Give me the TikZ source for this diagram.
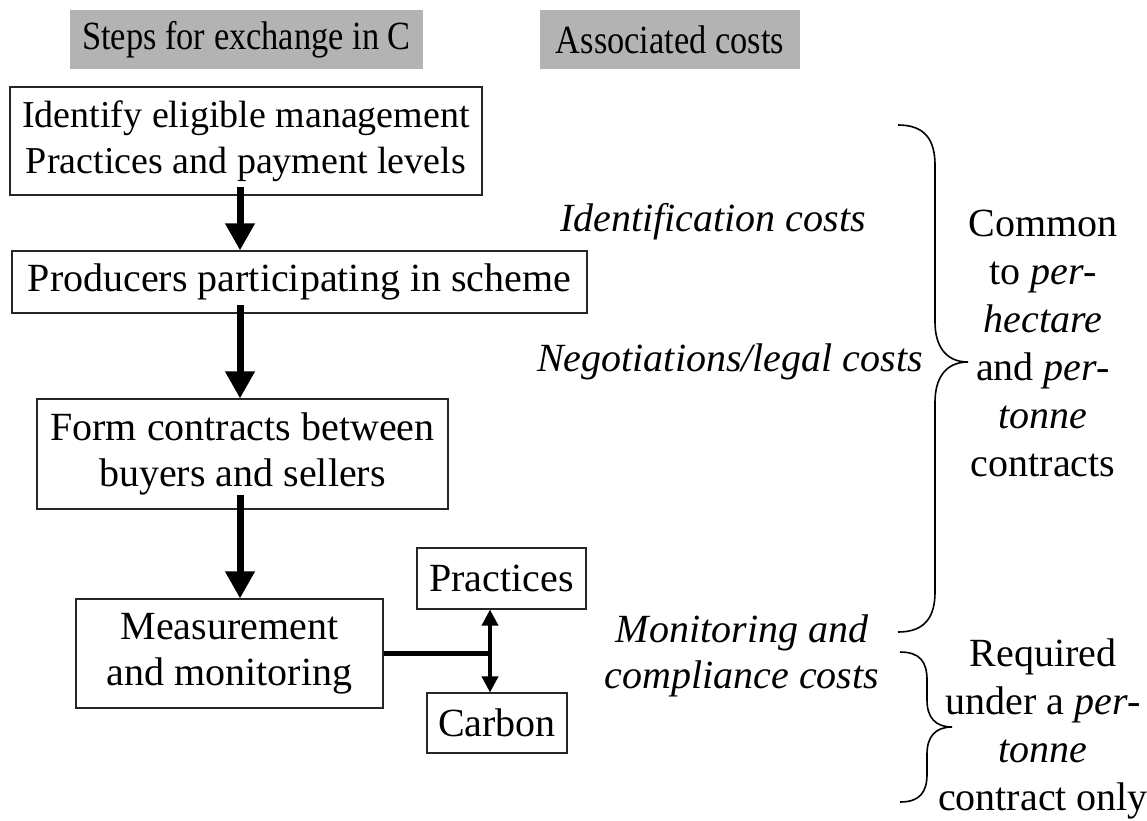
\documentclass[tikz,border=0pt]{standalone}
\usepackage{fontspec}
\usepackage{graphicx}
\setmainfont{Liberation Serif}
\usetikzlibrary{arrows.meta,calc}
\newcommand\bigf{\fontsize{40}{46}\selectfont}
\newcommand\boxonef{\fontsize{38}{46}\selectfont}
\definecolor{hdgray}{HTML}{B3B3B3}
\begin{document}
\begin{tikzpicture}[x=1pt,y=-1pt,
  box/.style={draw=black!85, line width=1.1pt, inner sep=0pt, align=center, font=\bigf},
  hd/.style={fill=hdgray, inner sep=0pt, font=\bigf},
  lbl/.style={inner sep=0pt, align=center, font=\bigf\itshape},
  side/.style={inner sep=0pt, align=center, font=\fontsize{40}{48}\selectfont},
  bigarrow/.style={line width=7pt, -{Triangle[width=28pt,length=27pt]}},
  smallarrow/.style={line width=3.5pt, -{Triangle[width=16pt,length=16pt]}},
  brace/.style={line width=1.6pt}]
\useasboundingbox (0,0) rectangle (1147,820);
% headers
\node[hd, minimum width=353pt, minimum height=59pt] (h1) at (246.5,39.5) {\scalebox{0.86}[1]{Steps for exchange in C}};
\node[hd, minimum width=260pt, minimum height=59pt] (h2) at (670,39.5) {\scalebox{0.86}[1]{Associated costs}};
% boxes
\node[box, font=\boxonef, minimum width=472pt, minimum height=108pt] (b1) at (246,141) {Identify eligible management\\Practices and payment levels};
\node[box, minimum width=575pt, minimum height=62pt] (b2) at (299.5,282) {Producers participating in scheme};
\node[box, minimum width=411pt, minimum height=110pt] (b3) at (242.5,454) {Form contracts between\\buyers and sellers};
\node[box, minimum width=307pt, minimum height=109pt] (b4) at (229.5,653.5) {Measurement\\and monitoring};
\node[box, minimum width=169pt, minimum height=61pt] (pr) at (501.5,578.5) {Practices};
\node[box, minimum width=140pt, minimum height=60pt] (ca) at (497,723) {Carbon};
% main arrows
\coordinate (s1) at (240,187);
\coordinate (s2) at (240,305);
\coordinate (s3) at (240,495);
\draw[bigarrow] (s1) -- (s1 |- b2.north);
\draw[bigarrow] (s2) -- (s2 |- b3.north);
\draw[bigarrow] (s3) -- (s3 |- b4.north);
% junction
\coordinate (j) at (490,653.5);
\draw[line width=4.5pt] (b4.east) -- (j);
\draw[smallarrow] (j) -- (j |- pr.south);
\draw[smallarrow] (j) -- (j |- ca.north);
% cost labels
\node[lbl] (c1) at (713,222) {Identification costs};
\node[lbl] (c2) at (730,362) {Negotiations/legal costs};
\node[lbl] (c3) at (742,656) {Monitoring and\\compliance costs};
% big brace
\draw[brace] (898,125) .. controls (925,125) and (935,140) .. (935,165)
  -- (935,322) .. controls (935,345) and (945,362) .. (968,362)
  .. controls (945,362) and (935,379) .. (935,402)
  -- (935,592) .. controls (935,617) and (925,632) .. (898,632);
% small brace
\draw[brace] (900,652) .. controls (920,652) and (927,662) .. (927,680)
  -- (927,700) .. controls (927,717) and (935,727) .. (952,727)
  .. controls (935,727) and (927,737) .. (927,754)
  -- (927,774) .. controls (927,792) and (920,802) .. (900,802);
% side texts
\node[side] (t1) at (1043,343) {Common\\to \textit{per-}\\\textit{hectare}\\and \textit{per-}\\\textit{tonne}\\contracts};
\node[side] (t2) at (1043,729) {Required\\under a \textit{per-}\\\textit{tonne}\\contract only};
\end{tikzpicture}
\end{document}
